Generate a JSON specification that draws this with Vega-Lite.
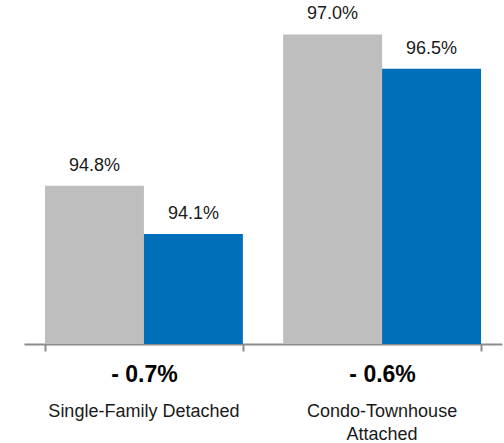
{
  "$schema": "https://vega.github.io/schema/vega-lite/v6.json",
  "autosize": "none",
  "width": 478,
  "height": 344,
  "padding": {"left": 24, "top": 0, "right": 2, "bottom": 99},
  "config": {"view": {"stroke": null}, "font": "Liberation Sans"},
  "data": {
    "values": [
      {"category": "Single-Family Detached", "series": "Prior", "value": 94.8},
      {"category": "Single-Family Detached", "series": "Current", "value": 94.1},
      {"category": "Condo-Townhouse Attached", "series": "Prior", "value": 97.0},
      {"category": "Condo-Townhouse Attached", "series": "Current", "value": 96.5}
    ]
  },
  "transform": [
    {"calculate": "format(datum.value, '.1f') + '%'", "as": "label"}
  ],
  "encoding": {
    "x": {
      "field": "category",
      "type": "nominal",
      "sort": ["Single-Family Detached", "Condo-Townhouse Attached"],
      "scale": {"paddingInner": 0.169, "paddingOuter": 0.088}
    },
    "xOffset": {
      "field": "series",
      "type": "nominal",
      "sort": ["Prior", "Current"],
      "scale": {"paddingInner": 0, "paddingOuter": 0}
    },
    "y": {
      "field": "value",
      "type": "quantitative",
      "scale": {"domain": [92.5, 97.5], "zero": false, "nice": false},
      "axis": null
    }
  },
  "layer": [
    {
      "mark": {"type": "bar", "clip": true},
      "encoding": {
        "x": {
          "field": "category",
          "type": "nominal",
          "sort": ["Single-Family Detached", "Condo-Townhouse Attached"],
          "axis": {
            "orient": "bottom",
            "title": null,
            "labelAngle": 0,
            "tickBand": "extent",
            "domainColor": "#8C8C8C",
            "domainWidth": 2,
            "tickColor": "#8C8C8C",
            "tickWidth": 2,
            "tickSize": 7,
            "labelPadding": 12,
            "labelFontSize": 23,
            "labelFontWeight": "bold",
            "labelColor": "#000000",
            "labelExpr": "datum.label == 'Single-Family Detached' ? '- 0.7%' : (datum.label == 'Condo-Townhouse Attached' ? '- 0.6%' : '')"
          }
        },
        "color": {
          "field": "series",
          "type": "nominal",
          "scale": {"domain": ["Prior", "Current"], "range": ["#BEBEBE", "#006FBA"]},
          "legend": null
        }
      }
    },
    {
      "mark": {"type": "text", "baseline": "alphabetic", "dy": -15, "fontSize": 18, "color": "#1a1a1a"},
      "encoding": {
        "x": {
          "field": "category",
          "type": "nominal",
          "sort": ["Single-Family Detached", "Condo-Townhouse Attached"],
          "axis": {
            "orient": "bottom",
            "title": null,
            "labelAngle": 0,
            "domain": false,
            "ticks": false,
            "tickSize": 0,
            "labelPadding": 58,
            "labelFontSize": 18,
            "labelLineHeight": 23,
            "labelLimit": 400,
            "labelColor": "#1a1a1a",
            "labelExpr": "datum.label == 'Condo-Townhouse Attached' ? ['Condo-Townhouse', 'Attached'] : datum.label"
          }
        },
        "text": {"field": "label", "type": "nominal"},
        "detail": {"field": "series"}
      }
    }
  ],
  "resolve": {"axis": {"x": "independent"}}
}
